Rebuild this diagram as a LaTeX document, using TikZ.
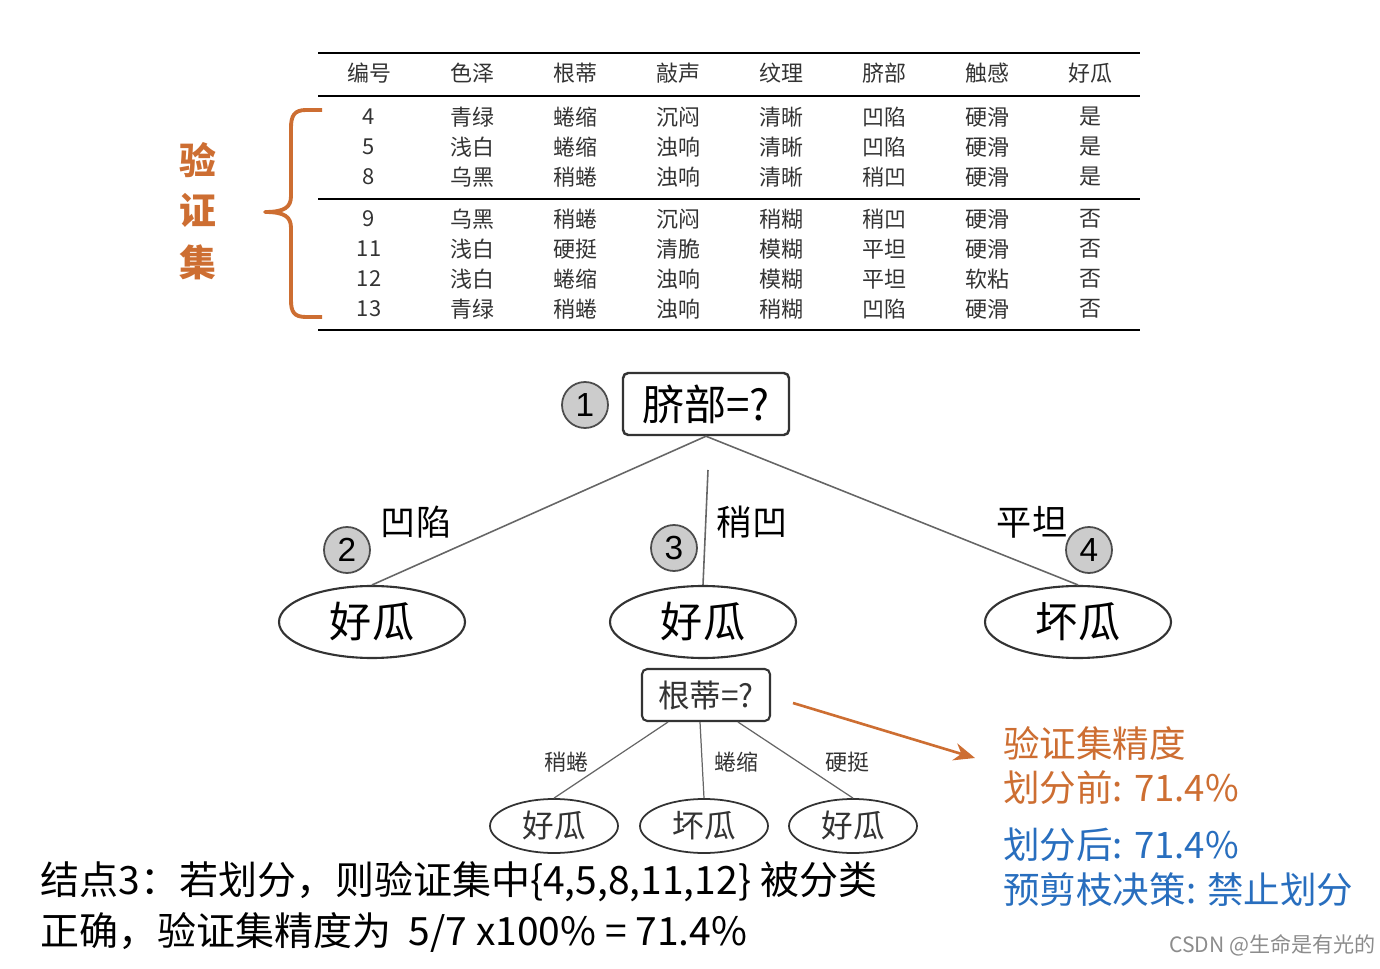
\documentclass[tikz,border=0pt]{standalone}
\usepackage{fontspec}
\setmainfont{Liberation Sans}
\newfontfamily\cjk{Noto Sans CJK SC}
\usetikzlibrary{shapes.geometric,arrows.meta}
\definecolor{org}{RGB}{205,110,50}
\definecolor{blu}{RGB}{40,110,190}
\begin{document}
\begin{tikzpicture}[x=0.02cm,y=-0.02cm,
  tb/.style={font=\cjk\fontsize{12.5}{14}\selectfont,text=black!80,inner sep=0},
  num/.style={circle,draw=black!70,fill=black!20,line width=1pt,minimum size=46*0.02cm,inner sep=0,font=\fontsize{19}{20}\selectfont},
  leaf/.style={ellipse,draw=black!80,line width=1.2pt,minimum width=186*0.02cm,minimum height=72*0.02cm,inner sep=0,font=\cjk\fontsize{24}{26}\selectfont},
  sleaf/.style={ellipse,draw=black!80,line width=1pt,minimum width=128*0.02cm,minimum height=54*0.02cm,inner sep=0,font=\cjk\fontsize{18}{20}\selectfont,text=black!80},
  lab/.style={font=\cjk\fontsize{20}{22}\selectfont},
  slab/.style={font=\cjk\fontsize{12.5}{14}\selectfont,text=black!80},
  rt/.style={anchor=west,inner sep=0,font=\cjk\fontsize{20.8}{22}\selectfont},
  bt/.style={anchor=west,inner sep=0,font=\cjk\fontsize{22.2}{24}\selectfont},
  br/.style={line width=0.9pt,black!60}]
\useasboundingbox (0,0) rectangle (1380,969);
% table
\draw[line width=1.2pt] (318,53)--(1140,53);
\draw[line width=0.8pt] (318,96)--(1140,96);
\draw[line width=0.8pt] (318,199)--(1140,199);
\draw[line width=1.2pt] (318,330)--(1140,330);
\foreach \t [count=\i from 0] in {编号,色泽,根蒂,敲声,纹理,脐部,触感,好瓜}
  \node[tb] (h\i) at (369+103*\i,73) {\t};
\foreach \y/\a/\b/\c/\d/\e/\f/\g/\h in {
 117/4/青绿/蜷缩/沉闷/清晰/凹陷/硬滑/是,
 147/5/浅白/蜷缩/浊响/清晰/凹陷/硬滑/是,
 177/8/乌黑/稍蜷/浊响/清晰/稍凹/硬滑/是,
 219/9/乌黑/稍蜷/沉闷/稍糊/稍凹/硬滑/否,
 249/11/浅白/硬挺/清脆/模糊/平坦/硬滑/否,
 279/12/浅白/蜷缩/浊响/模糊/平坦/软粘/否,
 309/13/青绿/稍蜷/浊响/稍糊/凹陷/硬滑/否}{
 \node[tb] at (369,\y) {\a}; \node[tb] at (472,\y) {\b}; \node[tb] at (575,\y) {\c};
 \node[tb] at (678,\y) {\d}; \node[tb] at (781,\y) {\e}; \node[tb] at (884,\y) {\f};
 \node[tb] at (987,\y) {\g}; \node[tb] at (1090,\y) {\h};}
% brace
\draw[org,line width=2.2pt,line join=round] (322,110) -- (306,110) .. controls (294,110) and (291,116) .. (291,128)
  -- (291,196) .. controls (291,207) and (285,212) .. (265,212)
  .. controls (285,212) and (291,217) .. (291,228) -- (291,300)
  .. controls (291,312) and (294,317) .. (306,317) -- (322,317);
\foreach \t/\y in {验/160,证/210,集/262}
  \node[font=\cjk\bfseries\fontsize{21}{22}\selectfont,text=org] at (198,\y) {\t};
% tree
\node[draw=black!80,line width=1.4pt,rounded corners=3pt,minimum width=166*0.02cm,minimum height=62*0.02cm,font=\cjk\fontsize{24}{26}\selectfont] (root) at (706,404) {脐部=?};
\node[num] (n1) at (585,405) {1};
\node[leaf] (l1) at (372,622) {好瓜};
\node[leaf] (l2) at (703,622) {好瓜};
\node[leaf] (l3) at (1078,622) {坏瓜};
\coordinate (r3) at (708,470);
\draw[br] (root.south) -- (l1.north);
\draw[br] (r3) -- (l2.north);
\draw[br] (root.south) -- (l3.north);
\node[num] (n2) at (347,550) {2};
\node[num] (n3) at (674,548) {3};
\node[num] (n4) at (1089,550) {4};
\node[lab] (e1) at (416,522) {凹陷};
\node[lab] (e2) at (752,522) {稍凹};
\node[lab] (e3) at (1032,522) {平坦};
\node[draw=black!80,line width=1.2pt,rounded corners=3pt,minimum width=128*0.02cm,minimum height=52*0.02cm,font=\cjk\fontsize{18}{20}\selectfont,text=black!80] (gd) at (706,695) {根蒂=?};
\node[sleaf] (s1) at (554,826) {好瓜};
\node[sleaf] (s2) at (704,826) {坏瓜};
\node[sleaf] (s3) at (853,826) {好瓜};
\draw[br,line width=0.7pt] (gd.south) ++(-38,0) coordinate (g1) -- (s1.north);
\draw[br,line width=0.7pt] (gd.south) ++(-6,0) coordinate (g2) -- (s2.north);
\draw[br,line width=0.7pt] (gd.south) ++(32,0) coordinate (g3) -- (s3.north);
\node[slab] (f1) at (566,762) {稍蜷};
\node[slab] (f2) at (736,762) {蜷缩};
\node[slab] (f3) at (847,762) {硬挺};
% arrow and text
\coordinate (a0) at (793,703);
\coordinate (a1) at (975,758);
\draw[org,line width=1.5pt,-{Stealth[length=12pt,width=10pt]}] (a0) -- (a1);
\node[rt,text=org] (t1) at (1003,743) {验证集精度};
\node[rt,text=org] (t2) at (1003,788) {划分前: 71.4\%};
\node[rt,text=blu] (t3) at (1003,845) {划分后: 71.4\%};
\node[rt,text=blu] (t4) at (1003,890) {预剪枝决策: 禁止划分};
\node[bt] (b1) at (40,882) {结点3：若划分，则验证集中\{4,5,8,11,12\} 被分类};
\node[bt] (b2) at (40,932) {正确，验证集精度为\ \ 5/7 x100\% = 71.4\%};
\node[anchor=east,inner sep=0,font=\cjk\fontsize{12}{13}\selectfont,text=black!45] (wm) at (1376,945) {CSDN @生命是有光的};
\end{tikzpicture}
\end{document}
